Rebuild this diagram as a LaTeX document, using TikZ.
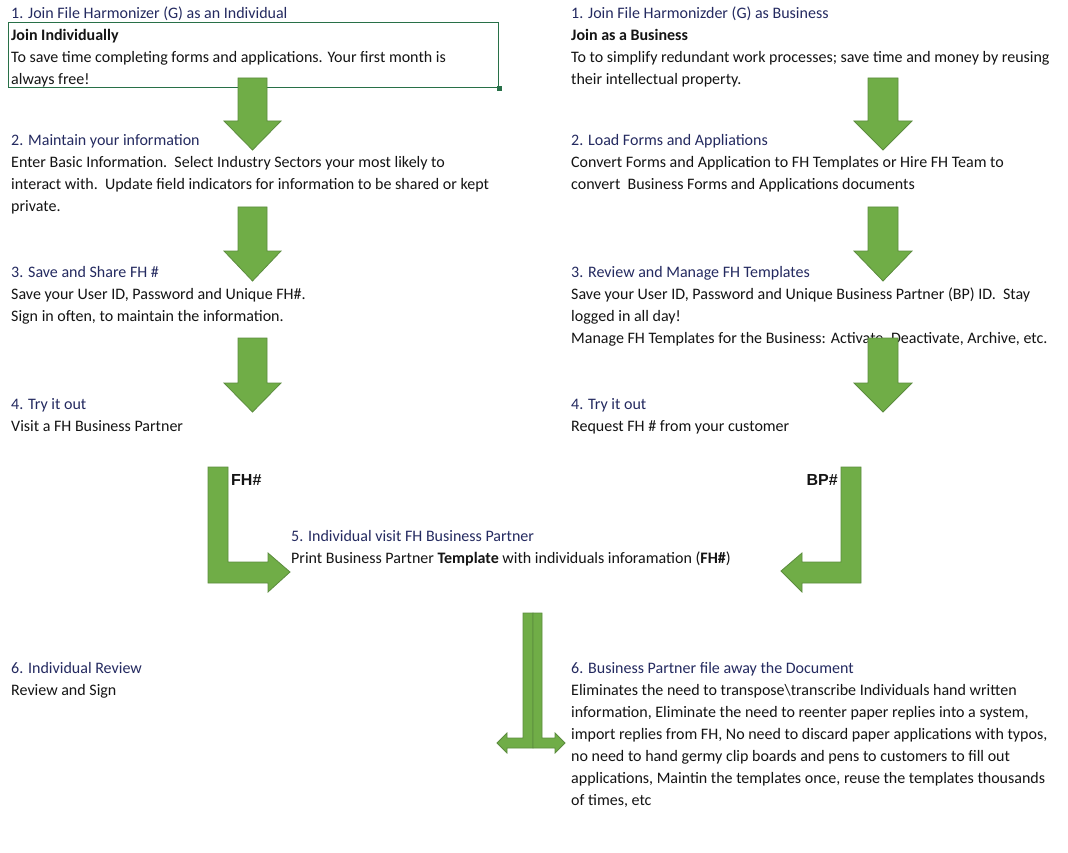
\documentclass[tikz,border=0pt]{standalone}
\usepackage{fontspec}
\setmainfont{Carlito}
\newfontfamily\labelfont{Liberation Sans}
\definecolor{headnavy}{RGB}{36,42,96}
\definecolor{bodyblack}{RGB}{20,20,20}
\definecolor{arrowgreen}{RGB}{112,173,71}
\definecolor{arrowedge}{RGB}{92,140,62}
\definecolor{boxgreen}{RGB}{40,112,72}
\tikzset{
  txt/.style={anchor=west, inner sep=0pt, text height=14pt, text depth=2.2pt,
    font=\fontsize{16}{19}\selectfont, text=bodyblack},
  head/.style={txt, text=headnavy},
  tag/.style={txt, font=\labelfont\bfseries\fontsize{16}{19}\selectfont},
  garrow/.style={fill=arrowgreen, draw=arrowedge, line width=0.8pt, line join=miter}
}
\begin{document}
\begin{tikzpicture}[x=1pt, y=-1pt]
            \useasboundingbox (0,0) rectangle (1068,853);
            \fill[white] (0,0) rectangle (1068,853);

            % left column
            \node[head] (L1h) at (11,13) {1. Join File Harmonizer (G) as an Individual};
            \node[draw=boxgreen, line width=1.4pt, anchor=north west, minimum width=490pt, minimum height=65pt, inner sep=0pt] (box) at (8,22) {};
            \node[fill=boxgreen, minimum size=5pt, inner sep=0pt] (handle) at (box.south east) {};
            \node[txt] (L1a) at (11,35) {\textbf{Join Individually}};
            \node[txt] (L1b) at (11,57) {To save time completing forms and applications. Your first month is};
            \node[txt] (L1c) at (11,79) {always free!};

            \node[head] (L2h) at (11,140) {2. Maintain your information};
            \node[txt] (L2a) at (11,162) {Enter Basic Information.\ \ Select Industry Sectors your most likely to};
            \node[txt] (L2b) at (11,184) {interact with.\ \ Update field indicators for information to be shared or kept};
            \node[txt] (L2c) at (11,206) {private.};

            \node[head] (L3h) at (11,272) {3. Save and Share FH \#};
            \node[txt] (L3a) at (11,294) {Save your User ID, Password and Unique FH\#.};
            \node[txt] (L3b) at (11,316) {Sign in often, to maintain the information.};

            \node[head] (L4h) at (11,404) {4. Try it out};
            \node[txt] (L4a) at (11,426) {Visit a FH Business Partner};

            \node[tag] (FH) at (231,480) {FH\#};

            \node[head] (M5h) at (291,536) {5. Individual visit FH Business Partner};
            \node[txt] (M5a) at (291,558) {Print Business Partner \textbf{Template} with individuals inforamation (\textbf{FH\#})};

            \node[head] (L6h) at (11,668) {6. Individual Review};
            \node[txt] (L6a) at (11,690) {Review and Sign};

            % right column
            \node[head] (R1h) at (571,13) {1. Join File Harmonizder (G) as Business};
            \node[txt] (R1a) at (571,35) {\textbf{Join as a Business}};
            \node[txt] (R1b) at (571,57) {To to simplify redundant work processes; save time and money by reusing};
            \node[txt] (R1c) at (571,79) {their intellectual property.};

            \node[head] (R2h) at (571,140) {2. Load Forms and Appliations};
            \node[txt] (R2a) at (571,162) {Convert Forms and Application to FH Templates or Hire FH Team to};
            \node[txt] (R2b) at (571,184) {convert\ \ Business Forms and Applications documents};

            \node[head] (R3h) at (571,272) {3. Review and Manage FH Templates};
            \node[txt] (R3a) at (571,294) {Save your User ID, Password and Unique Business Partner (BP) ID.\ \ Stay};
            \node[txt] (R3b) at (571,316) {logged in all day!};
            \node[txt] (R3c) at (571,338) {Manage FH Templates for the Business: Activate, Deactivate, Archive, etc.};

            \node[head] (R4h) at (571,404) {4. Try it out};
            \node[txt] (R4a) at (571,426) {Request FH \# from your customer};

            \node[tag, anchor=east] (BP) at (838,480) {BP\#};

            \node[head] (R6h) at (571,668) {6. Business Partner file away the Document};
            \node[txt] (R6a) at (571,690) {Eliminates the need to transpose\textbackslash transcribe Individuals hand written};
            \node[txt] (R6b) at (571,712) {information, Eliminate the need to reenter paper replies into a system,};
            \node[txt] (R6c) at (571,734) {import replies from FH, No need to discard paper applications with typos,};
            \node[txt] (R6d) at (571,756) {no need to hand germy clip boards and pens to customers to fill out};
            \node[txt] (R6e) at (571,778) {applications, Maintin the templates once, reuse the templates thousands};
            \node[txt] (R6f) at (571,800) {of times, etc};

            % down arrows
            \draw[garrow] (238,78) -- (267,78) -- (267,121) -- (281,121) -- (252.5,150) -- (224,121) -- (238,121) -- cycle;
            \draw[garrow] (238,207) -- (267,207) -- (267,251) -- (281,251) -- (252.5,281) -- (224,251) -- (238,251) -- cycle;
            \draw[garrow] (238,338) -- (267,338) -- (267,383) -- (281,383) -- (252.5,412) -- (224,383) -- (238,383) -- cycle;
            \draw[garrow] (868,78) -- (898,78) -- (898,121) -- (912,121) -- (883,150) -- (854,121) -- (868,121) -- cycle;
            \draw[garrow] (868,207) -- (898,207) -- (898,251) -- (912,251) -- (883,281) -- (854,251) -- (868,251) -- cycle;
            \draw[garrow] (868,338) -- (898,338) -- (898,383) -- (912,383) -- (883,412) -- (854,383) -- (868,383) -- cycle;

            % bent arrows
            \draw[garrow] (208,467) -- (228,467) -- (228,562) -- (268,562) -- (268,553) -- (290,572) -- (268,592) -- (268,583) -- (208,583) -- cycle;
            \draw[garrow] (861,467) -- (841,467) -- (841,562) -- (802,562) -- (802,553) -- (781,571) -- (802,592) -- (802,583) -- (861,583) -- cycle;
            \draw[garrow] (523,613) -- (533,613) -- (533,748) -- (507,748) -- (507,753) -- (497,743) -- (507,733) -- (507,738) -- (523,738) -- cycle;
            \draw[garrow] (542,613) -- (533,613) -- (533,748) -- (555,748) -- (555,753) -- (565,743) -- (555,733) -- (555,738) -- (542,738) -- cycle;
        \end{tikzpicture}
\end{document}
